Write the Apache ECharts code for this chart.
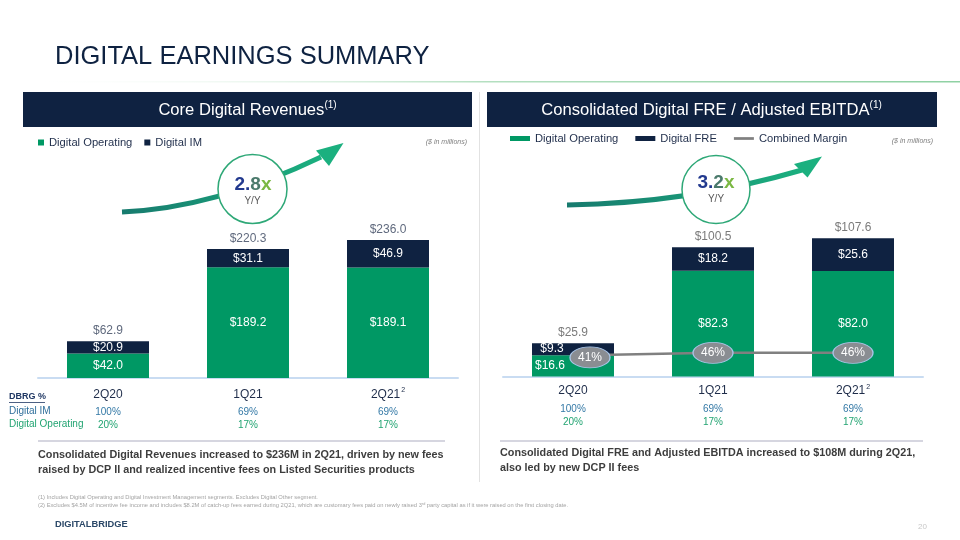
<!DOCTYPE html>
<html><head><meta charset="utf-8">
<script src="https://cdn.jsdelivr.net/npm/echarts@6/dist/echarts.min.js"></script>
<style>html,body{margin:0;padding:0;background:#fff}#c{width:960px;height:540px}</style>
</head><body><div id="c"></div>
<script>
// ---- data ----
const categories = ['2Q20', '1Q21', '2Q21'];
const catSup = ['', '', '2'];
const revOperating = [42.0, 189.2, 189.1];
const revIM = [20.9, 31.1, 46.9];
const freOperating = [16.6, 82.3, 82.0];
const freIM = [9.3, 18.2, 25.6];
const combinedMargin = [41, 46, 46];
const dbrgIM = ['100%', '69%', '69%'];
const dbrgOperating = ['20%', '17%', '17%'];

const revTotal = revOperating.map((v, i) => +(v + revIM[i]).toFixed(1));
const freTotal = freOperating.map((v, i) => +(v + freIM[i]).toFixed(1));

const F = '"Liberation Sans", Arial, sans-serif';
const GREEN = '#009864', NAVY = '#0f2241';
const fmt = p => '$' + (+p.value).toFixed(1);

const chart = echarts.init(document.getElementById('c'), null, {renderer: 'canvas'});

function catRich() {
  return {
    c: {fontSize: 12, color: '#1f2d4a', lineHeight: 23, fontFamily: F},
    s: {fontSize: 7, color: '#1f2d4a', verticalAlign: 'top', padding: [4, 0, 0, 1], fontFamily: F},
    im: {fontSize: 10, color: '#3479a6', lineHeight: 13, fontFamily: F},
    op: {fontSize: 10, color: '#22a472', lineHeight: 13, fontFamily: F}
  };
}
const catFmt = (val, idx) => '{c|' + val + '}' + (catSup[idx] ? '{s|' + catSup[idx] + '}' : '') +
  '\n{im|' + dbrgIM[idx] + '}\n{op|' + dbrgOperating[idx] + '}';

const arrowGrad = () => new echarts.graphic.LinearGradient(0, 0, 1, 0, [
  {offset: 0, color: '#177a6e'}, {offset: 1, color: '#1bb07f'}]);

const headRich = {t: {fontSize: 16.6, fill: '#fff', lineHeight: 20, fontFamily: F}, s: {fontSize: 10, fill: '#fff', verticalAlign: 'top', lineHeight: 12, fontFamily: F}};
const bigRich = {a: {fontSize: 19, fontWeight: 'bold', fill: '#22398e', fontFamily: F}, b: {fontSize: 19, fontWeight: 'bold', fill: '#4b7a6c', fontFamily: F}, c: {fontSize: 19, fontWeight: 'bold', fill: '#7bb843', fontFamily: F}};

const graphics = [
  {type: 'text', x: 55, y: 57, style: {text: 'DIGITAL EARNINGS SUMMARY', fill: '#0e2241', font: '25.5px ' + F, verticalAlign: 'middle'}},
  {type: 'rect', shape: {x: 15, y: 81, width: 945, height: 1.5}, style: {fill: new echarts.graphic.LinearGradient(0, 0, 1, 0, [
    {offset: 0, color: 'rgba(255,255,255,0)'}, {offset: 0.5, color: '#b4dfc0'}, {offset: 1, color: '#8fd1a3'}])}},
  {type: 'rect', shape: {x: 23, y: 92, width: 449, height: 35}, style: {fill: NAVY}},
  {type: 'rect', shape: {x: 487, y: 92, width: 450, height: 35}, style: {fill: NAVY}},
  {type: 'text', x: 247.5, y: 110, style: {text: '{t|Core Digital Revenues}{s|(1)}', align: 'center', verticalAlign: 'middle', rich: headRich}},
  {type: 'text', x: 711.5, y: 110, style: {text: '{t|Consolidated Digital FRE / Adjusted EBITDA}{s|(1)}', align: 'center', verticalAlign: 'middle', rich: headRich}},
  {type: 'line', shape: {x1: 479.5, y1: 92, x2: 479.5, y2: 482}, style: {stroke: '#e2e2e2', lineWidth: 1}},
  {type: 'text', x: 467, y: 142, style: {text: '($ in millions)', fill: '#7f7f7f', font: 'italic 7px ' + F, align: 'right', verticalAlign: 'middle'}},
  {type: 'text', x: 933, y: 141, style: {text: '($ in millions)', fill: '#7f7f7f', font: 'italic 7px ' + F, align: 'right', verticalAlign: 'middle'}},
  // arrows
  {type: 'bezierCurve', shape: {x1: 122, y1: 212, cpx1: 215, cpy1: 208, x2: 321, y2: 157}, style: {stroke: arrowGrad(), lineWidth: 5, fill: null}},
  {type: 'polygon', shape: {points: [[343.5, 143], [316, 150.5], [329, 166]]}, style: {fill: '#1bb07f'}},
  {type: 'bezierCurve', shape: {x1: 567, y1: 205, cpx1: 690, cpy1: 203, x2: 802, y2: 170}, style: {stroke: arrowGrad(), lineWidth: 5, fill: null}},
  {type: 'polygon', shape: {points: [[822, 156.5], [794, 164], [807.5, 177.5]]}, style: {fill: '#1bb07f'}},
  // circles
  {type: 'circle', shape: {cx: 252.5, cy: 189, r: 34.5}, style: {fill: '#fff', stroke: '#2ea877', lineWidth: 1.5}},
  {type: 'circle', shape: {cx: 716, cy: 189.5, r: 34}, style: {fill: '#fff', stroke: '#2ea877', lineWidth: 1.5}},
  {type: 'text', x: 253, y: 185, style: {text: '{a|2.}{b|8}{c|x}', align: 'center', verticalAlign: 'middle', rich: bigRich}},
  {type: 'text', x: 252.5, y: 201, style: {text: 'Y/Y', fill: '#595959', font: '10px ' + F, align: 'center', verticalAlign: 'middle'}},
  {type: 'text', x: 716, y: 183, style: {text: '{a|3.}{b|2}{c|x}', align: 'center', verticalAlign: 'middle', rich: bigRich}},
  {type: 'text', x: 716, y: 199, style: {text: 'Y/Y', fill: '#595959', font: '10px ' + F, align: 'center', verticalAlign: 'middle'}},
  // DBRG % row headers
  {type: 'text', x: 9, y: 397, style: {text: 'DBRG %', fill: '#1f3763', font: 'bold 9px ' + F, verticalAlign: 'middle'}},
  {type: 'line', shape: {x1: 9, y1: 402.5, x2: 45, y2: 402.5}, style: {stroke: '#1f3763', lineWidth: 0.8}},
  {type: 'text', x: 9, y: 411.5, style: {text: 'Digital IM', fill: '#2f6f9b', font: '10px ' + F, verticalAlign: 'middle'}},
  {type: 'text', x: 9, y: 424.5, style: {text: 'Digital Operating', fill: '#22a472', font: '10px ' + F, verticalAlign: 'middle'}},
  // separators + commentary
  {type: 'line', shape: {x1: 38, y1: 441, x2: 445, y2: 441}, style: {stroke: '#c9c9d6', lineWidth: 1.5}},
  {type: 'line', shape: {x1: 500, y1: 441, x2: 923, y2: 441}, style: {stroke: '#c9c9d6', lineWidth: 1.5}},
  {type: 'text', x: 38, y: 448, style: {text: 'Consolidated Digital Revenues increased to $236M in 2Q21, driven by new fees\nraised by DCP II and realized incentive fees on Listed Securities products',
    fill: '#3d3d3d', font: 'bold 10.8px ' + F, lineHeight: 14.5, verticalAlign: 'top'}},
  {type: 'text', x: 500, y: 446, style: {text: 'Consolidated Digital FRE and Adjusted EBITDA increased to $108M during 2Q21,\nalso led by new DCP II fees',
    fill: '#3d3d3d', font: 'bold 10.8px ' + F, lineHeight: 14.5, verticalAlign: 'top'}},
  // footnotes
  {type: 'text', x: 38, y: 497, style: {text: '(1) Includes Digital Operating and Digital Investment Management segments. Excludes Digital Other segment.', fill: '#a3a3a3', font: '5.75px ' + F, verticalAlign: 'middle'}},
  {type: 'text', x: 38, y: 505, style: {text: '{n|(2) Excludes $4.5M of incentive fee income and includes $8.2M of catch-up fees earned during 2Q21, which are customary fees paid on newly raised 3}{s|rd}{n| party capital as if it were raised on the first closing date.}',
    verticalAlign: 'middle', rich: {n: {fontSize: 5.75, fill: '#a3a3a3', fontFamily: F}, s: {fontSize: 3.8, fill: '#a3a3a3', verticalAlign: 'top', fontFamily: F}}}},
  {type: 'text', x: 55, y: 524, style: {text: 'DIGITALBRIDGE', fill: '#2b4868', font: 'bold 9.3px ' + F, verticalAlign: 'middle'}},
  {type: 'text', x: 918, y: 527, style: {text: '20', fill: '#c8c8c8', font: '8px ' + F, verticalAlign: 'middle'}}
];

const option = {
  animation: false,
  backgroundColor: '#fff',
  textStyle: {fontFamily: F},
  legend: [
    {left: 38, top: 137, padding: 0, itemWidth: 6, itemHeight: 6, itemGap: 12, icon: 'rect', selectedMode: false,
      textStyle: {fontSize: 11.2, color: '#1f2d4a', fontFamily: F}, data: ['Digital Operating', 'Digital IM']},
    {left: 510, top: 133, padding: 0, itemWidth: 20, itemHeight: 5, itemGap: 17, selectedMode: false,
      textStyle: {fontSize: 11.2, color: '#1f2d4a', fontFamily: F},
      data: [{name: 'Digital Operating', icon: 'rect'}, {name: 'Digital FRE', icon: 'rect'},
        {name: 'Combined Margin', icon: 'path://M0,0H22V3H0Z', itemStyle: {color: '#808080', borderWidth: 0}}]}
  ],
  grid: [
    {left: 38, width: 420, top: 202.5, height: 175.5},
    {left: 503, width: 420, top: 196.5, height: 180}
  ],
  xAxis: [0, 1].map(g => ({
    type: 'category', gridIndex: g, data: categories,
    axisLine: {lineStyle: {color: '#c9dcf2', width: 2}}, axisTick: {show: false},
    axisLabel: {margin: g === 0 ? 5 : 3, formatter: catFmt, rich: catRich()}
  })),
  yAxis: [
    {gridIndex: 0, min: 0, max: 300, show: false},
    {gridIndex: 1, min: 0, max: 140, show: false},
    {gridIndex: 1, min: 0, max: 350, show: false}
  ],
  series: [
    {name: 'Digital Operating', type: 'bar', stack: 'rev', xAxisIndex: 0, yAxisIndex: 0, barWidth: 82, data: revOperating,
      itemStyle: {color: GREEN}, label: {show: true, position: 'inside', color: '#fff', fontSize: 12, formatter: fmt}},
    {name: 'Digital IM', type: 'bar', stack: 'rev', xAxisIndex: 0, yAxisIndex: 0, barWidth: 82, data: revIM,
      itemStyle: {color: NAVY}, label: {show: true, position: 'inside', color: '#fff', fontSize: 12, formatter: fmt}},
    {name: 'revTotal', type: 'scatter', xAxisIndex: 0, yAxisIndex: 0, data: revTotal, symbolSize: 1, silent: true,
      itemStyle: {color: 'rgba(0,0,0,0)'}, label: {show: true, position: 'top', distance: 4, color: '#37445c', fontSize: 12, formatter: fmt}},
    {name: 'Digital Operating', type: 'bar', stack: 'fre', xAxisIndex: 1, yAxisIndex: 1, barWidth: 82,
      data: freOperating.map((v, i) => i === 0 ? {value: v, label: {offset: [-23, 0]}} : v),
      itemStyle: {color: GREEN}, label: {show: true, position: 'inside', color: '#fff', fontSize: 12, formatter: fmt}},
    {name: 'Digital FRE', type: 'bar', stack: 'fre', xAxisIndex: 1, yAxisIndex: 1, barWidth: 82,
      data: freIM.map((v, i) => i === 0 ? {value: v, label: {offset: [-21, 0]}} : v),
      itemStyle: {color: NAVY}, label: {show: true, position: 'inside', color: '#fff', fontSize: 12, formatter: fmt}},
    {name: 'freTotal', type: 'scatter', xAxisIndex: 1, yAxisIndex: 1, data: freTotal, symbolSize: 1, silent: true,
      itemStyle: {color: 'rgba(0,0,0,0)'}, label: {show: true, position: 'top', distance: 4, color: '#595959', fontSize: 12, formatter: fmt}},
    {name: 'Combined Margin', type: 'line', xAxisIndex: 1, yAxisIndex: 2, z: 5,
      data: combinedMargin.map((v, i) => i === 0 ? {value: v, symbolOffset: [17, 2]} : v),
      symbol: 'path://M0,10A10,10,0,1,1,20,10A10,10,0,1,1,0,10Z', symbolSize: [40, 21], showAllSymbol: true,
      lineStyle: {color: '#808080', width: 2.5}, itemStyle: {color: '#8a8d92', borderColor: '#a9c5e8', borderWidth: 1},
      label: {show: true, position: 'inside', color: '#fff', fontSize: 12, formatter: '{c}%'}}
  ],
  graphic: {elements: graphics}
};
chart.setOption(option);
</script></body></html>
